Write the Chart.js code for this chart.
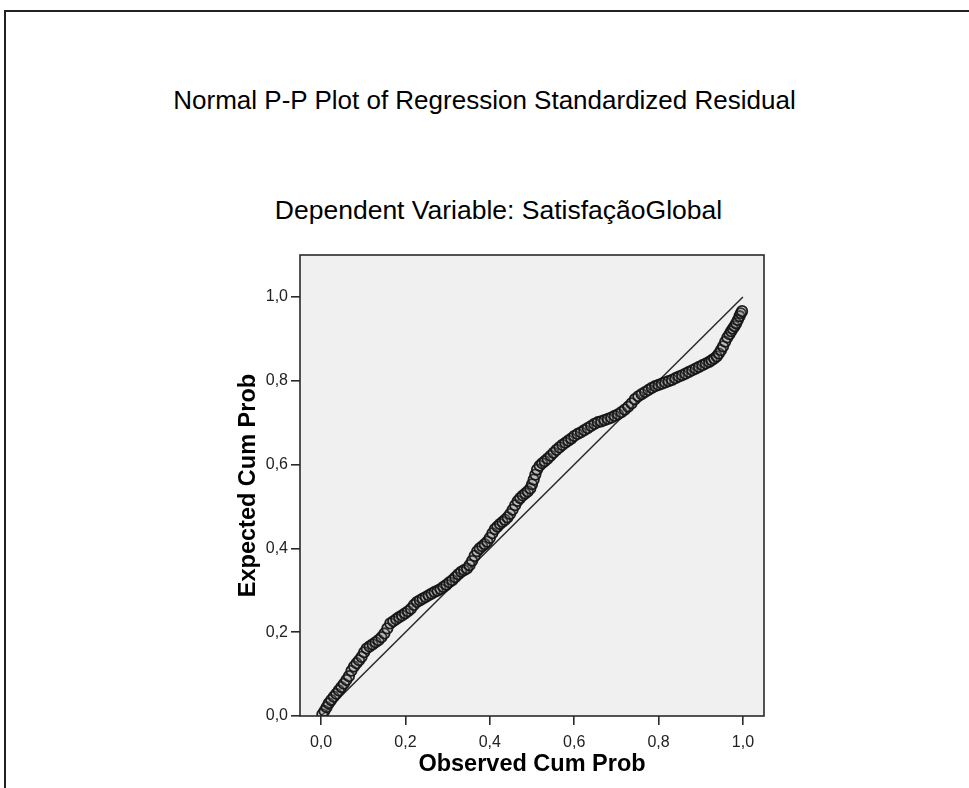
<!DOCTYPE html>
<html>
<head>
<meta charset="utf-8">
<script src="https://cdn.jsdelivr.net/npm/chart.js@4.4.1/dist/chart.umd.min.js"></script>
<style>
  html, body { margin: 0; padding: 0; background: #fff; }
  #wrap { position: relative; width: 969px; height: 788px; overflow: hidden; }
  #frame {
    position: absolute; left: 4px; top: 10px; width: 1000px; height: 800px;
    border-top: 2px solid #222; border-left: 2px solid #222;
  }
  .ttl {
    position: absolute; left: 0; width: 969px; text-align: center;
    font-family: "Liberation Sans", Arial, sans-serif; color: #000;
    line-height: 30px;
  }
  #chart { position: absolute; left: 0; top: 0; }
</style>
</head>
<body>
<div id="wrap">
  <div id="frame"></div>
  <div class="ttl" style="top:85px; font-size:26px">Normal P-P Plot of Regression Standardized Residual</div>
  <div class="ttl" style="top:195px; left:14px; font-size:26.5px">Dependent Variable: SatisfaçãoGlobal</div>
  <canvas id="chart" width="969" height="788"></canvas>
</div>
<script>
// observed cumulative probability (x) and expected cumulative probability (y)
const observedCumProb = [
  0.003, 0.008, 0.013, 0.018, 0.024, 0.030, 0.036, 0.042, 0.048, 0.054,
  0.060, 0.066, 0.072, 0.078, 0.084, 0.090, 0.096, 0.102, 0.108, 0.115,
  0.122, 0.129, 0.136, 0.143, 0.150, 0.157, 0.164, 0.171, 0.178, 0.185,
  0.192, 0.199, 0.206, 0.213, 0.220, 0.227, 0.234, 0.241, 0.248, 0.255,
  0.262, 0.269, 0.276, 0.283, 0.290, 0.297, 0.304, 0.311, 0.318, 0.325,
  0.332, 0.339, 0.346, 0.352, 0.358, 0.364, 0.370, 0.376, 0.382, 0.388,
  0.394, 0.400, 0.406, 0.412, 0.418, 0.424, 0.430, 0.436, 0.442, 0.448,
  0.454, 0.460, 0.466, 0.472, 0.478, 0.484, 0.490, 0.496, 0.500, 0.504,
  0.508, 0.512, 0.518, 0.524, 0.530, 0.537, 0.544, 0.551, 0.558, 0.565,
  0.572, 0.579, 0.586, 0.593, 0.600, 0.608, 0.616, 0.624, 0.632, 0.640,
  0.648, 0.656, 0.664, 0.672, 0.680, 0.688, 0.696, 0.704, 0.712, 0.720,
  0.728, 0.736, 0.744, 0.752, 0.760, 0.768, 0.776, 0.784, 0.792, 0.800,
  0.808, 0.816, 0.824, 0.832, 0.840, 0.848, 0.856, 0.864, 0.872, 0.880,
  0.888, 0.896, 0.904, 0.912, 0.920, 0.926, 0.932, 0.938, 0.943, 0.948,
  0.953, 0.958, 0.963, 0.968, 0.972, 0.976, 0.980, 0.984, 0.988, 0.992,
  0.995, 0.998
];
const expectedCumProb = [
  0.004, 0.012, 0.021, 0.030, 0.038, 0.046, 0.053, 0.061, 0.069, 0.077,
  0.086, 0.095, 0.108, 0.118, 0.126, 0.133, 0.141, 0.152, 0.161, 0.166,
  0.171, 0.176, 0.181, 0.188, 0.197, 0.209, 0.221, 0.226, 0.231, 0.236,
  0.240, 0.245, 0.250, 0.256, 0.265, 0.272, 0.276, 0.280, 0.284, 0.288,
  0.292, 0.296, 0.299, 0.303, 0.308, 0.313, 0.319, 0.324, 0.331, 0.338,
  0.344, 0.348, 0.352, 0.360, 0.370, 0.382, 0.393, 0.400, 0.405, 0.410,
  0.416, 0.425, 0.436, 0.446, 0.452, 0.458, 0.463, 0.468, 0.474, 0.482,
  0.492, 0.503, 0.513, 0.520, 0.526, 0.531, 0.536, 0.543, 0.553, 0.564,
  0.576, 0.588, 0.597, 0.603, 0.608, 0.614, 0.621, 0.628, 0.635, 0.641,
  0.647, 0.652, 0.657, 0.662, 0.668, 0.673, 0.677, 0.682, 0.687, 0.692,
  0.697, 0.701, 0.703, 0.706, 0.709, 0.712, 0.716, 0.720, 0.725, 0.731,
  0.738, 0.746, 0.756, 0.763, 0.768, 0.773, 0.778, 0.783, 0.787, 0.790,
  0.793, 0.796, 0.799, 0.802, 0.806, 0.810, 0.813, 0.817, 0.821, 0.825,
  0.829, 0.833, 0.837, 0.841, 0.845, 0.849, 0.853, 0.858, 0.865, 0.873,
  0.882, 0.893, 0.903, 0.911, 0.918, 0.924, 0.930, 0.937, 0.945, 0.954,
  0.961, 0.966
];
// diagonal reference line
const refLineX = [0, 1];
const refLineY = [0, 1];

const xTickLabels = ["0,0", "0,2", "0,4", "0,6", "0,8", "1,0"];
const yTickLabels = ["0,0", "0,2", "0,4", "0,6", "0,8", "1,0"];

const fmtTick = (v) => v.toFixed(1).replace(".", ",");

// gray plot background + box outline
const plotBox = {
  id: "plotBox",
  beforeDatasetsDraw(chart) {
    const { ctx, chartArea: a } = chart;
    ctx.save();
    ctx.fillStyle = "#f0f0f0";
    ctx.fillRect(a.left, a.top, a.right - a.left, a.bottom - a.top);
    ctx.restore();
  },
  afterDraw(chart) {
    const { ctx, chartArea: a } = chart;
    ctx.save();
    ctx.strokeStyle = "#2a2a2a";
    ctx.lineWidth = 1.6;
    ctx.strokeRect(a.left, a.top, a.right - a.left, a.bottom - a.top);
    ctx.restore();
  },
};

const tickFont = { family: "'Liberation Sans', Arial, sans-serif", size: 16 };
const axisTitleFont = { family: "'Liberation Sans', Arial, sans-serif", size: 23.5, weight: "bold" };

const ctx = document.getElementById("chart").getContext("2d");
new Chart(ctx, {
  type: "scatter",
  data: {
    datasets: [
      {
        type: "line",
        data: refLineX.map((x, i) => ({ x, y: refLineY[i] })),
        borderColor: "#2a2a2a",
        borderWidth: 1.5,
        pointRadius: 0,
        fill: false,
        order: 2,
      },
      {
        data: observedCumProb.map((x, i) => ({ x, y: expectedCumProb[i] })),
        pointRadius: 5.2,
        pointBorderWidth: 1.8,
        borderColor: "rgba(20,20,20,0.95)",
        backgroundColor: "rgba(120,120,120,0.25)",
        order: 1,
      },
    ],
  },
  options: {
    responsive: false,
    animation: false,
    layout: {
      padding: { left: 228, right: 205, top: 255, bottom: 0 },
    },
    plugins: {
      legend: { display: false },
      tooltip: { enabled: false },
    },
    scales: {
      x: {
        type: "linear",
        min: -0.05,
        max: 1.05,
        afterFit: (s) => { s.height = 72; },
        border: { display: false },
        grid: {
          drawOnChartArea: false,
          drawTicks: true,
          tickLength: 9,
          tickColor: "#2a2a2a",
          lineWidth: 1.6,
        },
        ticks: {
          stepSize: 0.2,
          includeBounds: false,
          color: "#222",
          padding: 8,
          font: tickFont,
          callback: (v) => {
            const s = fmtTick(v);
            return xTickLabels.includes(s) ? s : "";
          },
        },
        title: {
          display: true,
          text: "Observed Cum Prob",
          color: "#000",
          padding: { top: 0, bottom: 9 },
          font: axisTitleFont,
        },
      },
      y: {
        type: "linear",
        min: 0,
        max: 1.1,
        afterFit: (s) => { s.width = 72; },
        border: { display: false },
        grid: {
          drawOnChartArea: false,
          drawTicks: true,
          tickLength: 9,
          tickColor: "#2a2a2a",
          lineWidth: 1.6,
        },
        ticks: {
          stepSize: 0.2,
          includeBounds: false,
          color: "#222",
          padding: 3,
          font: tickFont,
          callback: (v) => {
            const s = fmtTick(v);
            return yTickLabels.includes(s) ? s : "";
          },
        },
        title: {
          display: true,
          text: "Expected Cum Prob",
          color: "#000",
          padding: { top: 6, bottom: 0 },
          font: axisTitleFont,
        },
      },
    },
  },
  plugins: [plotBox],
});
</script>
</body>
</html>
